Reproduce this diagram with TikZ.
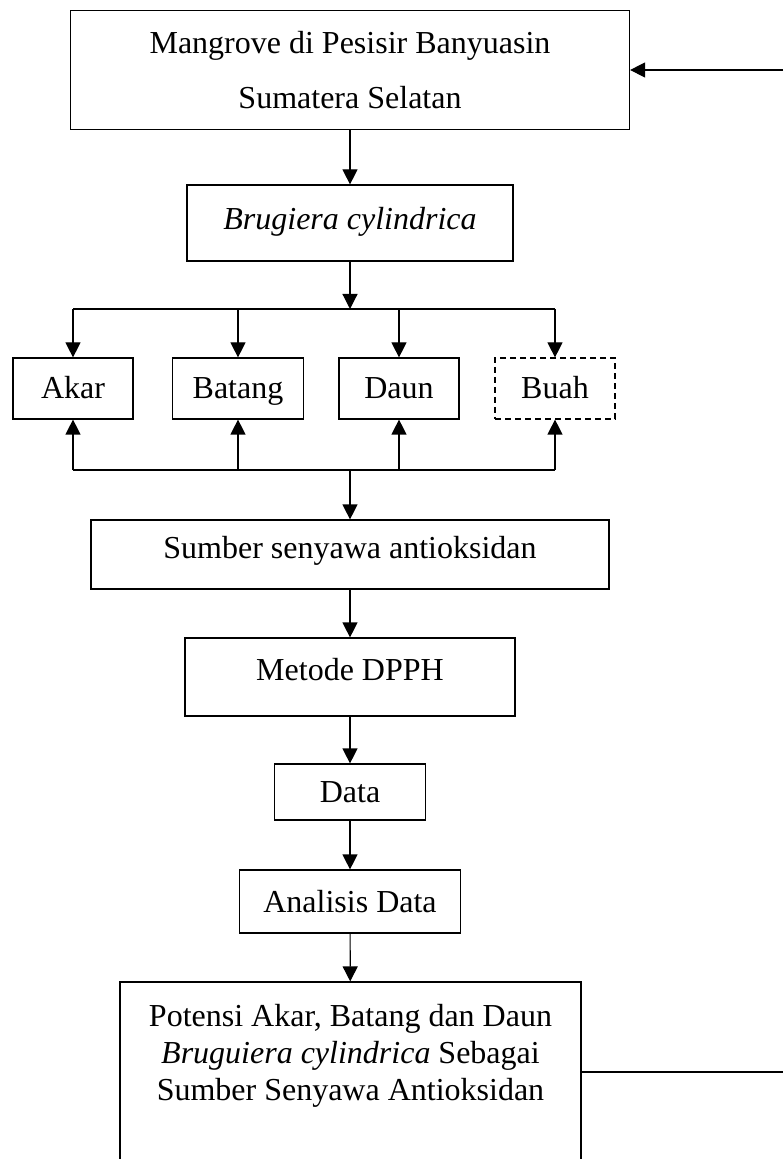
\documentclass[tikz,border=0pt]{standalone}
\usepackage{fontspec}
\setmainfont{Liberation Serif}
\usetikzlibrary{arrows.meta}
\tikzset{
  >={Triangle[length=7.5pt,width=7.5pt]},
  procbox/.style={draw,line width=0.6pt,inner sep=0pt,align=center,
    font=\fontsize{16}{18.5}\selectfont},
  partbox/.style={procbox,minimum width=60pt,minimum height=30.5pt,
    text height=11pt,text depth=0.5pt},
  optbox/.style={partbox,dash pattern=on 3pt off 2pt},
  flow/.style={->,line width=0.6pt},
  link/.style={line width=0.6pt},
}
\begin{document}
\begin{tikzpicture}[x=0.5pt,y=-0.5pt]
  \useasboundingbox (0,0) rectangle (783,1159);
  \node[procbox,minimum width=279.5pt,minimum height=59.5pt,
    font=\fontsize{16}{27.5}\selectfont] (mgv) at (350,70)
    {Mangrove di Pesisir Banyuasin\\Sumatera Selatan};
  \node[procbox,minimum width=163pt,minimum height=38pt,text depth=5pt]
    (brug) at (350,223) {\itshape Brugiera cylindrica};
  \node[partbox] (akar) at (73,388.5) {Akar};
  \node[partbox,minimum width=65.5pt] (batang) at (238,388.5) {Batang};
  \node[partbox] (daun) at (399,388.5) {Daun};
  \node[optbox] (buah) at (555,388.5) {Buah};
  \node[procbox,minimum width=259pt,minimum height=34.5pt,text depth=7pt]
    (smb) at (350,554.5) {Sumber senyawa antioksidan};
  \node[procbox,minimum width=165pt,minimum height=39pt,text depth=8pt]
    (dpph) at (350,677) {Metode DPPH};
  \node[procbox,minimum width=75.5pt,minimum height=28pt] (data) at (350,792)
    {Data};
  \node[procbox,minimum width=110.5pt,minimum height=31.5pt] (anl) at (350,901.5)
    {Analisis Data};
  \node[procbox,minimum width=230.5pt,minimum height=92pt,text depth=22pt]
    (pot) at (350.5,1074)
    {Potensi Akar, Batang dan Daun\\
     \textit{Bruguiera cylindrica} Sebagai\\
     Sumber Senyawa Antioksidan};
  \coordinate (split) at (350,309);
  \coordinate (merge) at (350,470);
  \coordinate (ret) at (783,70);
  \coordinate (out) at (783,1072);
  % main line
  \draw[flow] (ret) -- (mgv);
  \draw[flow] (mgv) -- (brug);
  \draw[flow] (brug) -- (split);
  \draw[link] (akar.north |- split) -- (buah.north |- split);
  \draw[link] (akar.south |- merge) -- (buah.south |- merge);
  \foreach \b in {akar,batang,daun,buah} {
    \draw[flow] (\b.north |- split) -- (\b);
    \draw[flow] (\b.south |- merge) -- (\b);
  }
  \draw[flow] (merge) -- (smb);
  \draw[flow] (smb) -- (dpph);
  \draw[flow] (dpph) -- (data);
  \draw[flow] (data) -- (anl);
  \draw[flow] (anl) -- (pot);
  \draw[link] (pot.east |- out) -- (out);
\end{tikzpicture}
\end{document}
